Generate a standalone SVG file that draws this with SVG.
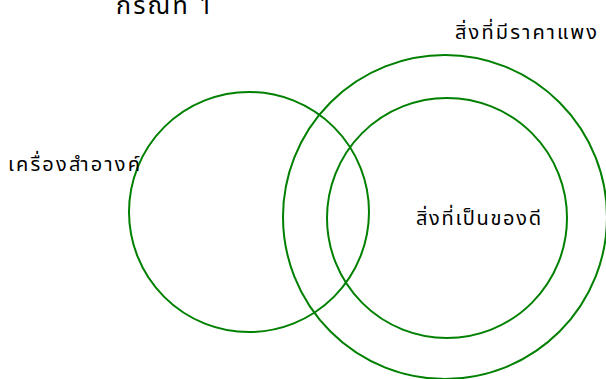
<svg xmlns="http://www.w3.org/2000/svg" width="606" height="379" viewBox="0 0 606 379">
<style>
.c{fill:none;stroke:#008000;stroke-width:2}
.t{font-family:"Noto Sans Thai","Noto Sans","DejaVu Sans",sans-serif;font-size:20px;fill:#000}
</style>
<rect width="606" height="379" fill="#fff"/>
<g id="connectors"></g>
<g id="cosmetics"><circle class="c" cx="249" cy="212" r="120"/><text class="t" x="8" y="171" textLength="132" lengthAdjust="spacing">เครื่องสำอางค์</text></g>
<g id="expensive"><circle class="c" cx="445" cy="217" r="162"/><text class="t" x="455" y="39" textLength="142" lengthAdjust="spacing">สิ่งที่มีราคาแพง</text></g>
<g id="good"><circle class="c" cx="447" cy="218" r="120"/><text class="t" x="416" y="225" textLength="125" lengthAdjust="spacing">สิ่งที่เป็นของดี</text></g>
<g id="title"><text class="t" x="116" y="14" textLength="97" lengthAdjust="spacing" style="font-size:25px">กรณีที่ 1</text></g>
</svg>
